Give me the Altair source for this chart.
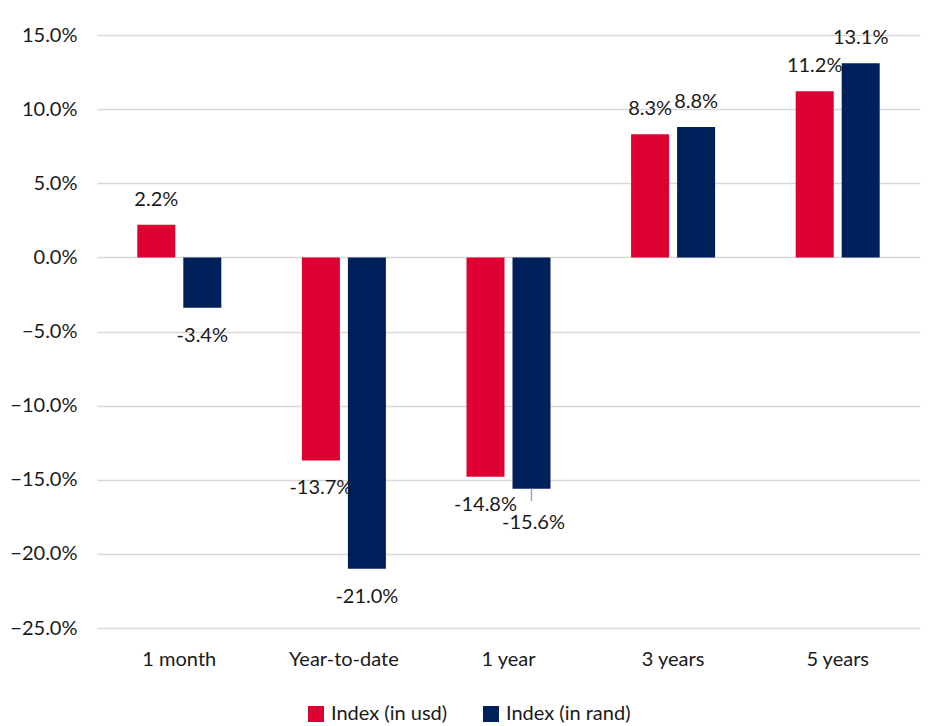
import altair as alt
import pandas as pd

categories = ["1 month", "Year-to-date", "1 year", "3 years", "5 years"]
series = ["Index (in usd)", "Index (in rand)"]
usd = [2.2, -13.7, -14.8, 8.3, 11.2]
rand = [-3.4, -21.0, -15.6, 8.8, 13.1]
colors = ["#DE0030", "#00205B"]

rows = []
for c, u, r in zip(categories, usd, rand):
    rows.append({"cat": c, "series": series[0], "v": u})
    rows.append({"cat": c, "series": series[1], "v": r})
df = pd.DataFrame(rows)
df["label"] = df["v"].map(lambda x: f"{x:.1f}%")

FONT = "Lato"
FS = 20
TXT = "#1a1a1a"

x = alt.X("cat:N", sort=categories, title=None,
          scale=alt.Scale(paddingInner=0, paddingOuter=0),
          axis=alt.Axis(labelAngle=0, ticks=False, domain=False, grid=False, labelFontSize=FS,
                        labelFont=FONT, labelColor=TXT, labelPadding=21, orient="bottom"))
xoff = alt.XOffset("series:N", sort=series,
                   scale=alt.Scale(paddingInner=0.174, paddingOuter=0.876))
y = alt.Y("v:Q", title=None,
          scale=alt.Scale(domain=[-25, 15], nice=False, zero=False),
          axis=alt.Axis(values=[-25, -20, -15, -10, -5, 0, 5, 10, 15],
                        labelExpr="format(datum.value, '.1f') + '%'",
                        domain=False, ticks=False, labelFontSize=FS, labelFont=FONT,
                        labelColor=TXT, labelPadding=20,
                        gridColor="#D9D9D9", gridWidth=1.3))
color = alt.Color("series:N", sort=series,
                  scale=alt.Scale(domain=series, range=colors),
                  legend=alt.Legend(orient="none", legendX=209, legendY=669, title=None,
                                    symbolType="square", direction="horizontal",
                                    symbolSize=256, symbolStrokeWidth=0, labelFontSize=FS,
                                    labelFont=FONT, labelColor=TXT, columnPadding=33,
                                    symbolOffset=0, labelOffset=5))

bars = alt.Chart(df).mark_bar(opacity=1).encode(x=x, xOffset=xoff, y=y, color=color)

# the one label that Excel moved down with a leader line
moved = "datum.cat == '1 year' && datum.series == 'Index (in rand)'"

pos = alt.Chart(df).transform_filter("datum.v >= 0").mark_text(
    dy=-25, fontSize=FS, font=FONT, color=TXT, baseline="middle"
).encode(x=x, xOffset=xoff, y=y, text="label:N")
neg = alt.Chart(df).transform_filter(f"datum.v < 0 && !({moved})").mark_text(
    dy=28, fontSize=FS, font=FONT, color=TXT, baseline="middle"
).encode(x=x, xOffset=xoff, y=y, text="label:N")
neg_moved = alt.Chart(df).transform_filter(moved).mark_text(
    dy=34, dx=2, fontSize=FS, font=FONT, color=TXT, baseline="middle"
).encode(x=x, xOffset=xoff, y=y, text="label:N")
leader = alt.Chart(df).transform_filter(moved).transform_calculate(
    v2="datum.v - 0.85"
).mark_rule(color="#A6A6A6", strokeWidth=1.5).encode(
    x=x, xOffset=xoff, y=y, y2="v2:Q"
)

chart = alt.layer(bars, leader, pos, neg, neg_moved).properties(
    width=823, height=593,
    autosize=alt.AutoSizeParams(type="none"),
    padding={"left": 97, "top": 35, "right": 13, "bottom": 98},
).configure(background="white").configure_view(stroke=None, strokeWidth=0)

chart.save("out.html", embed_options={"renderer": "svg", "actions": False})
